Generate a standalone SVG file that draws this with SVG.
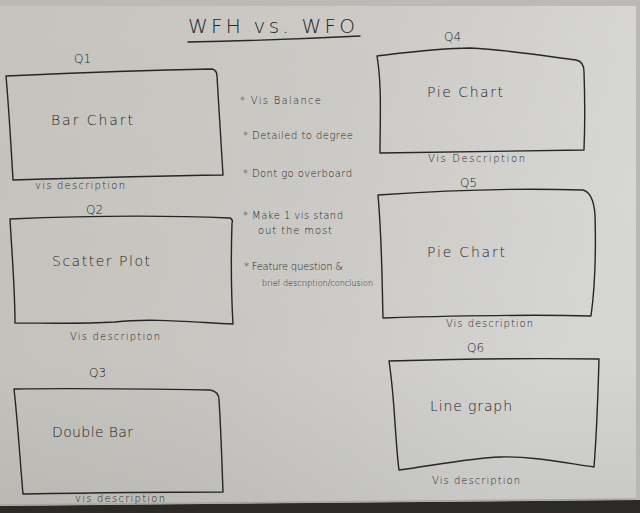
<svg xmlns="http://www.w3.org/2000/svg" width="640" height="513" viewBox="0 0 640 513">
  <defs>
    <linearGradient id="paper" x1="0" y1="0" x2="1" y2="0.35">
      <stop offset="0" stop-color="#c6c3bd"/>
      <stop offset="0.55" stop-color="#cdcbc7"/>
      <stop offset="1" stop-color="#d9d9d7"/>
    </linearGradient>
    <linearGradient id="shade" x1="0" y1="0" x2="0" y2="1">
      <stop offset="0" stop-color="#000" stop-opacity="0"/>
      <stop offset="0.7" stop-color="#000" stop-opacity="0.02"/>
      <stop offset="1" stop-color="#000" stop-opacity="0.08"/>
    </linearGradient>
    <style>
      .box { fill: none; stroke: #262626; stroke-width: 1.4; stroke-linejoin: round; stroke-linecap: round; }
      .ink { fill: #242424; font-family: "DejaVu Sans", "Liberation Sans", sans-serif; font-weight: 300; }
      .q { font-size: 12px; }
      .name { font-size: 14px; }
      .desc { font-size: 10px; }
      .note { font-size: 10px; }
      .title { font-size: 20px; }
    </style>
  </defs>

  <!-- paper and table -->
  <rect x="0" y="0" width="640" height="513" fill="url(#paper)"/>
  <rect x="0" y="0" width="640" height="513" fill="url(#shade)"/>
  <rect x="0" y="0" width="640" height="6" fill="#bdbab5"/>
  <path d="M0 506 L640 500 L640 513 L0 513 Z" fill="#2c2a27"/>
  <path d="M0 505 L640 499" stroke="#a8a5a0" stroke-width="1.5"/>
  <rect x="636" y="0" width="4" height="500" fill="#b9b8b5"/>

  <!-- heading -->
  <g id="title">
    <text class="ink title" x="188" y="33" textLength="167" lengthAdjust="spacing">WFH vs. WFO</text>
    <path class="box" d="M188 42 C240 41 300 39 360 36"/>
  </g>

  <!-- notes -->
  <g id="notes" class="ink note">
    <text x="240" y="104" textLength="81" lengthAdjust="spacing">* Vis Balance</text>
    <text x="243" y="139" textLength="110" lengthAdjust="spacing">* Detailed to degree</text>
    <text x="243" y="177" textLength="109" lengthAdjust="spacing">* Dont go overboard</text>
    <text x="243" y="219" textLength="100" lengthAdjust="spacing">* Make 1 vis stand</text>
    <text x="258" y="234" textLength="74" lengthAdjust="spacing">out the most</text>
    <text x="244" y="270" textLength="99" lengthAdjust="spacing">* Feature question &amp;</text>
    <text x="262" y="286" font-size="8.5" textLength="111" lengthAdjust="spacingAndGlyphs">brief description/conclusion</text>
  </g>

  <!-- Q1 -->
  <g id="q1">
    <text class="ink q" x="74" y="63">Q1</text>
    <path class="box" d="M6 76 C70 73 150 70 212 69 C216 70 217 72 217 76 C219 110 221 145 223 175 C150 176 80 178 13 180 C11 145 9 110 6 76 Z"/>
    <text class="ink name" x="51" y="125" textLength="82" lengthAdjust="spacing">Bar Chart</text>
    <text class="ink desc" x="35" y="189" textLength="90" lengthAdjust="spacing">vis description</text>
  </g>

  <!-- Q2 -->
  <g id="q2">
    <text class="ink q" x="86" y="214">Q2</text>
    <path class="box" d="M10 219 C80 216 160 215 230 218 C232 219 233 221 232 223 C231 255 231 290 233 324 C190 322 150 318 115 322 C80 324 45 323 15 323 C15 290 12 255 10 219 Z"/>
    <text class="ink name" x="52" y="266" textLength="98" lengthAdjust="spacing">Scatter Plot</text>
    <text class="ink desc" x="70" y="340" textLength="90" lengthAdjust="spacing">Vis description</text>
  </g>

  <!-- Q3 -->
  <g id="q3">
    <text class="ink q" x="89" y="377">Q3</text>
    <path class="box" d="M14 389 C80 388 150 389 210 390 C216 391 219 394 219 400 C221 430 222 465 223 492 C150 492 80 493 23 494 C20 460 18 425 14 389 Z"/>
    <text class="ink name" x="52" y="437" textLength="81" lengthAdjust="spacing">Double Bar</text>
    <text class="ink desc" x="75" y="502" font-size="9" textLength="90" lengthAdjust="spacing">vis description</text>
  </g>

  <!-- Q4 -->
  <g id="q4">
    <text class="ink q" x="444" y="41">Q4</text>
    <path class="box" d="M377 56 C410 52 440 48 470 48 C510 50 545 56 576 60 C582 61 584 66 584 72 C585 100 585 125 584 150 C520 151 450 152 380 153 C380 120 382 85 377 56 Z"/>
    <text class="ink name" x="427" y="97" textLength="76" lengthAdjust="spacing">Pie Chart</text>
    <text class="ink desc" x="428" y="162" textLength="97" lengthAdjust="spacing">Vis Description</text>
  </g>

  <!-- Q5 -->
  <g id="q5">
    <text class="ink q" x="460" y="187">Q5</text>
    <path class="box" d="M378 195 C450 190 520 188 583 190 C590 192 594 200 595 215 C596 250 596 280 591 316 C520 314 450 316 383 318 C382 280 382 240 378 195 Z"/>
    <text class="ink name" x="427" y="257" textLength="78" lengthAdjust="spacing">Pie Chart</text>
    <text class="ink desc" x="446" y="327" textLength="87" lengthAdjust="spacing">Vis description</text>
  </g>

  <!-- Q6 -->
  <g id="q6">
    <text class="ink q" x="467" y="352">Q6</text>
    <path class="box" d="M389 361 C460 359 530 358 599 359 C598 395 597 430 594 467 C560 462 530 456 500 457 C470 458 430 466 399 470 C395 440 395 400 389 361 Z"/>
    <text class="ink name" x="430" y="411" textLength="82" lengthAdjust="spacing">Line graph</text>
    <text class="ink desc" x="432" y="484" textLength="88" lengthAdjust="spacing">Vis description</text>
  </g>
</svg>
